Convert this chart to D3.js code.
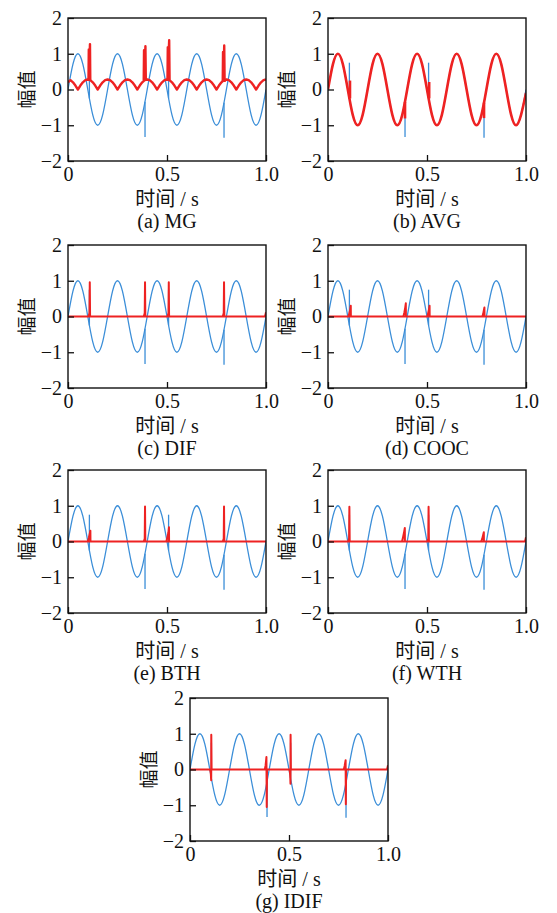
<!DOCTYPE html>
<html>
<head>
<meta charset="utf-8">
<script src="https://cdn.jsdelivr.net/npm/d3@7"></script>
<style>
  html, body { margin: 0; padding: 0; background: #fff; }
  svg { display: block; }
  .tick text { font-family: "Liberation Serif", "Times New Roman", serif; font-size: 20px; fill: #111; }
  .lbl { font-family: "Liberation Serif", "Noto Sans CJK SC", serif; font-size: 20px; fill: #111; }
  .ylbl { font-family: "Noto Sans CJK SC", sans-serif; font-size: 19px; fill: #111; }
</style>
</head>
<body>
<svg id="chart" width="557" height="913"></svg>
<script>
// ---- axis ticks ----
const xTicks = [0, 0.5, 1.0];
const xTickLabels = ["0", "0.5", "1.0"];
const yTicks = [-2, -1, 0, 1, 2];
const yTickLabels = ["\u22122", "\u22121", "0", "1", "2"];

// ---- noisy test signal (blue): 5 Hz sine sampled every 0.025 s ----
const sigStep = 0.025;
const original = [
  0, 0.71, 1, 0.71, 0, -0.71, -1, -0.71,
  0, 0.71, 1, 0.71, 0, -0.71, -1, -0.71,
  0, 0.71, 1, 0.71, 0, -0.71, -1, -0.71,
  0, 0.71, 1, 0.71, 0, -0.71, -1, -0.71,
  0, 0.71, 1, 0.71, 0, -0.71, -1, -0.71,
  0
];
// impulse noise: [time, signal value, impulse value]
const impulses = [[0.108, -0.25, 0.75], [0.389, -0.34, -1.33], [0.508, -0.25, 0.75], [0.788, -0.37, -1.35]];

// ---- MG output: sampled every 0.0125 s ----
const mgStep = 0.0125;
const mgBase = [
  0.20, 0.26, 0.2, 0.11, 0, 0.11, 0.2, 0.26,
  0.28, 0.26, 0.2, 0.11, 0, 0.11, 0.2, 0.26,
  0.28, 0.26, 0.2, 0.11, 0, 0.11, 0.2, 0.26,
  0.28, 0.26, 0.2, 0.11, 0, 0.11, 0.2, 0.26,
  0.28, 0.26, 0.2, 0.11, 0, 0.11, 0.2, 0.26,
  0.28, 0.26, 0.2, 0.11, 0, 0.11, 0.2, 0.26,
  0.28, 0.26, 0.2, 0.11, 0, 0.11, 0.2, 0.26,
  0.28, 0.26, 0.2, 0.11, 0, 0.11, 0.2, 0.26,
  0.28, 0.26, 0.2, 0.11, 0, 0.11, 0.2, 0.26,
  0.28, 0.26, 0.2, 0.11, 0, 0.11, 0.2, 0.26,
  0.28
];
const mgSpikes = [
  [[0.1035, 0.28], [0.105, 1.12], [0.108, 0.75], [0.111, 1.27], [0.1125, 0.27]],
  [[0.3825, 0.26], [0.384, 1.1], [0.388, 0.65], [0.391, 1.21], [0.393, 0.27]],
  [[0.5025, 0.28], [0.504, 1.18], [0.507, 0.8], [0.511, 1.38], [0.513, 0.27]],
  [[0.7815, 0.23], [0.783, 1.05], [0.786, 0.6], [0.789, 1.23], [0.791, 0.21]]
];

// ---- AVG output: smooth part sampled every 0.025 s, plus jumps [time, from, to] ----
const avgSmooth = [
  0, 0.71, 1, 0.71, 0, -0.71, -1, -0.71,
  0, 0.71, 1, 0.71, 0, -0.71, -1, -0.71,
  0, 0.71, 1, 0.71, 0, -0.71, -1, -0.71,
  0, 0.71, 1, 0.71, 0, -0.71, -1, -0.71,
  0, 0.71, 1, 0.71, 0, -0.71, -1, -0.71,
  -0.1
];
const avgJumps = [[0.111, -0.25, 0.25], [0.389, -0.35, -0.81], [0.511, -0.25, 0.21], [0.788, -0.37, -0.8]];

// ---- remaining detector outputs: zero baseline plus local responses ----
const zeroLine = [[0, 0], [1, 0]];
const endRise = [[0.995, 0], [1.0, 0.12]];
const difSpikes = [
  [[0.104, 0], [0.1085, 0.1], [0.110, 0.96], [0.1115, 0]],
  [[0.383, 0], [0.3875, 0.1], [0.389, 0.96], [0.3905, 0]],
  [[0.503, 0], [0.5075, 0.1], [0.509, 0.96], [0.5105, 0]],
  [[0.782, 0], [0.7865, 0.1], [0.788, 0.96], [0.7895, 0]]
];
const coocSpikes = [
  [[0.104, 0], [0.108, 0.1], [0.112, 0.2], [0.115, 0.3], [0.1155, 0]],
  [[0.381, 0], [0.386, 0.12], [0.390, 0.25], [0.393, 0.37], [0.3935, 0]],
  [[0.502, 0], [0.506, 0.1], [0.510, 0.2], [0.513, 0.3], [0.5135, 0]],
  [[0.780, 0], [0.784, 0.08], [0.787, 0.17], [0.790, 0.25], [0.7905, 0]]
];
const bthSpikes = [
  [[0.100, 0], [0.105, 0.1], [0.109, 0.2], [0.113, 0.3], [0.1135, 0]],
  [[0.383, 0], [0.3875, 0.08], [0.389, 0.98], [0.3905, 0]],
  [[0.497, 0], [0.502, 0.12], [0.507, 0.25], [0.510, 0.4], [0.5105, 0]],
  [[0.782, 0], [0.7865, 0.08], [0.788, 0.98], [0.7895, 0]]
];
const wthSpikes = [
  [[0.102, 0], [0.1065, 0.08], [0.108, 0.97], [0.1095, 0]],
  [[0.374, 0], [0.379, 0.12], [0.384, 0.25], [0.388, 0.38], [0.3885, 0]],
  [[0.502, 0], [0.5065, 0.08], [0.508, 0.97], [0.5095, 0]],
  [[0.774, 0], [0.779, 0.08], [0.783, 0.17], [0.787, 0.26], [0.7875, 0]]
];
const idifSpikes = [
  [[0.102, 0], [0.105, -0.1], [0.107, -0.3], [0.1075, 0.97], [0.109, 0]],
  [[0.378, 0], [0.382, 0.12], [0.386, 0.35], [0.3875, -1.05], [0.389, 0]],
  [[0.503, 0], [0.506, -0.15], [0.5075, -0.4], [0.508, 0.97], [0.5095, 0]],
  [[0.777, 0], [0.781, 0.1], [0.786, 0.26], [0.787, -0.97], [0.7885, 0]]
];

const captions = ["(a) MG", "(b) AVG", "(c) DIF", "(d) COOC", "(e) BTH", "(f) WTH", "(g) IDIF"];

// ---- layout ----
const W = 198, H = 143;
const panelPos = [[68, 18], [328, 18], [68, 245], [328, 245], [68, 470], [328, 470], [190, 698]];
const BLUE = "#3b8ed8", RED = "#ee2222";

const toPts = (vals, step) => vals.map((v, i) => [i * step, v]);

// red content for each panel: smooth curve (optional), polylines, jump segments
const panelRed = [
  { lines: [toPts(mgBase, mgStep)].concat(mgSpikes), width: 2.4 },
  { smooth: toPts(avgSmooth, sigStep), jumps: avgJumps, lines: [], width: 2.6 },
  { lines: [zeroLine, endRise].concat(difSpikes), width: 2 },
  { lines: [zeroLine].concat(coocSpikes), width: 2 },
  { lines: [zeroLine].concat(bthSpikes), width: 2 },
  { lines: [zeroLine, endRise].concat(wthSpikes), width: 2 },
  { lines: [zeroLine, endRise].concat(idifSpikes), width: 2 }
];

const svg = d3.select("#chart");

panelPos.forEach(([px, py], k) => {
  const g = svg.append("g").attr("transform", `translate(${px},${py})`);
  const x = d3.scaleLinear().domain([0, 1]).range([0, W]);
  const y = d3.scaleLinear().domain([-2, 2]).range([H, 0]);

  const clipId = "clip" + k;
  g.append("clipPath").attr("id", clipId)
    .append("rect").attr("x", 0).attr("y", 0).attr("width", W).attr("height", H);

  const plot = g.append("g").attr("clip-path", `url(#${clipId})`);
  const curve = d3.line().x(d => x(d[0])).y(d => y(d[1])).curve(d3.curveNatural);
  const poly = d3.line().x(d => x(d[0])).y(d => y(d[1]));

  // noisy input signal
  plot.append("path").datum(toPts(original, sigStep))
    .attr("d", curve).attr("fill", "none").attr("stroke", BLUE).attr("stroke-width", 1.3);
  plot.selectAll("line.imp").data(impulses).enter().append("line")
    .attr("class", "imp")
    .attr("x1", d => x(d[0])).attr("x2", d => x(d[0]))
    .attr("y1", d => y(d[1])).attr("y2", d => y(d[2]))
    .attr("stroke", BLUE).attr("stroke-width", 1.3);

  // detector output
  const red = panelRed[k];
  if (red.smooth) {
    plot.append("path").datum(red.smooth)
      .attr("d", curve).attr("fill", "none").attr("stroke", RED)
      .attr("stroke-width", red.width);
  }
  if (red.jumps) {
    plot.selectAll("line.jmp").data(red.jumps).enter().append("line")
      .attr("class", "jmp")
      .attr("x1", d => x(d[0])).attr("x2", d => x(d[0]))
      .attr("y1", d => y(d[1])).attr("y2", d => y(d[2]))
      .attr("stroke", RED).attr("stroke-width", red.width);
  }
  red.lines.forEach(pts => {
    plot.append("path").datum(pts)
      .attr("d", poly).attr("fill", "none").attr("stroke", RED)
      .attr("stroke-width", red.width).attr("stroke-linejoin", "round");
  });

  // axes with inward ticks
  const xAxis = d3.axisBottom(x).tickValues(xTicks)
    .tickFormat((d, i) => xTickLabels[i]).tickSize(-6).tickPadding(6);
  const yAxis = d3.axisLeft(y).tickValues(yTicks)
    .tickFormat((d, i) => yTickLabels[i]).tickSize(-6).tickPadding(6);

  const gx = g.append("g").attr("transform", `translate(0,${H})`).call(xAxis);
  const gy = g.append("g").call(yAxis);
  [gx, gy].forEach(a => {
    a.select(".domain").remove();
    a.selectAll(".tick line").attr("stroke", "#111").attr("stroke-width", 1.3);
    a.selectAll(".tick text").attr("font-family", null).attr("font-size", null);
  });

  // frame
  g.append("rect").attr("x", 0).attr("y", 0).attr("width", W).attr("height", H)
    .attr("fill", "none").attr("stroke", "#111").attr("stroke-width", 1.4);

  // axis titles and caption
  g.append("text").attr("class", "ylbl")
    .attr("transform", `translate(-34,${H / 2}) rotate(-90)`)
    .attr("text-anchor", "middle").text("幅值");
  g.append("text").attr("class", "lbl")
    .attr("x", W / 2).attr("y", 188).attr("text-anchor", "middle").text("时间 / s");
  g.append("text").attr("class", "lbl")
    .attr("x", W / 2).attr("y", 210).attr("text-anchor", "middle").text(captions[k]);
});
</script>
</body>
</html>
